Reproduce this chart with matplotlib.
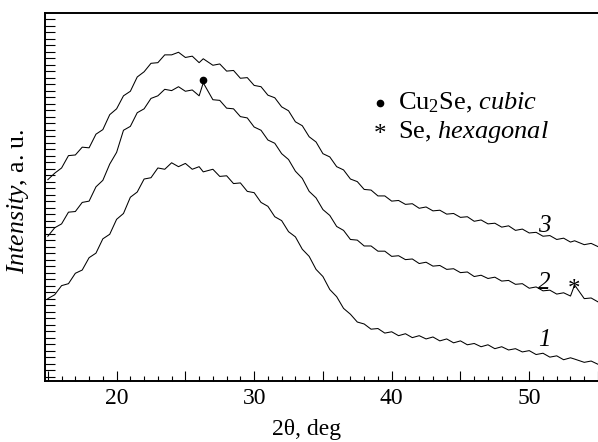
import numpy as np
import matplotlib
matplotlib.use("Agg")
import matplotlib.pyplot as plt
from matplotlib import font_manager
from matplotlib.ticker import MultipleLocator

# find a Times-like serif font
serif = 'DejaVu Serif'
for f in font_manager.findSystemFonts():
    name = f.lower().replace(' ', '').replace('-', '')
    if 'liberationserif' in name or 'tinos' in name or 'timesnewroman' in name:
        font_manager.fontManager.addfont(f)
        serif = font_manager.FontProperties(fname=f).get_name()
plt.rcParams['font.family'] = [serif, 'DejaVu Serif']
plt.rcParams['mathtext.fontset'] = 'custom'
plt.rcParams['mathtext.rm'] = serif
plt.rcParams['mathtext.it'] = serif + ':italic'

# 2theta grid, deg
two_theta = [15.0, 15.5, 16.0, 16.5, 17.0, 17.5, 18.0, 18.5, 19.0, 19.5,
             20.0, 20.5, 21.0, 21.5, 22.0, 22.5, 23.0, 23.5, 24.0, 24.5,
             25.0, 25.5, 26.0, 26.3, 27.0, 27.5, 28.0, 28.5, 29.0, 29.5,
             30.0, 30.5, 31.0, 31.5, 32.0, 32.5, 33.0, 33.5, 34.0, 34.5,
             35.0, 35.5, 36.0, 36.5, 37.0, 37.5, 38.0, 38.5, 39.0, 39.5,
             40.0, 40.5, 41.0, 41.5, 42.0, 42.5, 43.0, 43.5, 44.0, 44.5,
             45.0, 45.5, 46.0, 46.5, 47.0, 47.5, 48.0, 48.5, 49.0, 49.5,
             50.0, 50.5, 51.0, 51.5, 52.0, 52.5, 53.0, 53.3, 54.0, 54.5,
             55.0]

# intensities (arbitrary units, curves already shifted)
curve1 = [12.0, 12.6, 14.0, 14.3, 15.9, 16.4, 18.3, 19.0, 21.2, 21.9,
          24.2, 25.1, 27.6, 28.4, 30.4, 30.6, 32.1, 31.9, 32.9, 32.3,
          32.8, 31.9, 32.3, 31.5, 31.9, 30.8, 30.9, 29.7, 29.8, 28.5,
          28.3, 26.8, 26.2, 24.6, 24.0, 22.3, 21.5, 19.6, 18.5, 16.5,
          15.4, 13.4, 12.3, 10.5, 9.6, 8.4, 8.1, 7.3, 7.4, 6.7,
          6.9, 6.3, 6.6, 6.0, 6.3, 5.8, 6.1, 5.5, 5.8, 5.2,
          5.5, 4.9, 5.1, 4.6, 4.9, 4.3, 4.6, 4.1, 4.3, 3.8,
          4.0, 3.4, 3.6, 3.0, 3.2, 2.6, 2.9, 2.7, 2.2, 2.4,
          1.9]
curve2 = [21.6, 22.9, 23.5, 25.3, 25.4, 26.8, 27.0, 29.2, 30.2, 32.7,
          34.5, 37.9, 38.5, 40.6, 41.2, 42.8, 43.2, 44.2, 44.0, 44.6,
          43.9, 44.1, 43.2, 45.2, 42.6, 42.5, 41.3, 41.2, 40.0, 39.8,
          38.4, 37.9, 36.4, 35.9, 34.3, 33.4, 31.6, 30.5, 28.5, 27.5,
          25.7, 24.8, 23.1, 22.5, 21.1, 21.0, 20.1, 20.1, 19.3, 19.3,
          18.5, 18.6, 18.0, 18.1, 17.4, 17.6, 17.0, 17.1, 16.5, 16.6,
          16.0, 16.1, 15.4, 15.6, 15.1, 15.3, 14.7, 14.8, 14.2, 14.3,
          13.6, 13.8, 13.2, 13.3, 12.7, 12.9, 12.4, 14.1, 12.0, 12.1,
          11.5]
curve3 = [30.3, 31.3, 32.1, 34.0, 34.1, 35.3, 35.2, 37.3, 38.0, 40.3,
          41.2, 43.2, 43.9, 46.1, 46.9, 48.2, 48.3, 49.5, 49.5, 49.9,
          49.1, 49.3, 48.3, 48.9, 47.9, 48.1, 47.0, 47.1, 45.9, 46.0,
          44.8, 44.6, 43.3, 42.9, 41.5, 40.9, 39.2, 38.6, 36.9, 36.1,
          34.3, 33.8, 32.3, 31.8, 30.4, 30.0, 28.8, 28.7, 27.8, 27.8,
          27.0, 27.1, 26.5, 26.6, 25.9, 26.1, 25.5, 25.6, 25.0, 25.1,
          24.5, 24.6, 23.9, 24.1, 23.5, 23.6, 23.0, 23.2, 22.5, 22.7,
          22.1, 22.2, 21.6, 21.7, 21.1, 21.3, 20.7, 20.9, 20.3, 20.5,
          20.0]

curves = [curve1, curve2, curve3]
curve_labels = ['1', '2', '3']
label_y = [5.6, 14.4, 23.2]

fig = plt.figure(figsize=(5.98, 4.42), dpi=100)
ax = fig.add_axes([0.0747, 0.137, 0.9253, 0.833])

for c in curves:
    ax.plot(two_theta, c, color='black', lw=0.75)

# curve numbers
for lab, yy in zip(curve_labels, label_y):
    ax.text(51.1, yy, lab, fontsize=18, style='italic', ha='center', va='center')

# phase markers
ax.plot([26.27], [45.6], 'o', color='black', ms=4.5)
ax.text(53.27, 13.3, '*', fontsize=18, ha='center', va='center')

# legend
ax.plot([39.12], [42.1], 'o', color='black', ms=4.5)
ax.text(39.12, 37.1, '*', fontsize=18, ha='center', va='center')
ax.text(40.47, 42.1, r'Cu$_2$Se, $\mathit{cubic}$', fontsize=19, va='center')
ax.text(40.47, 37.6, r'Se, $\mathit{hexagonal}$', fontsize=19, va='center')

ax.set_xlim(14.77, 54.72)
ax.set_ylim(-0.74, 55.9)
ax.xaxis.set_minor_locator(MultipleLocator(1))
ax.set_xticks(np.arange(15, 56, 5))
ax.set_xticklabels(['' if v % 10 else str(v) for v in np.arange(15, 56, 5)])
ax.yaxis.set_major_locator(MultipleLocator(1))
ax.set_yticklabels([])
ax.tick_params(axis='x', which='major', direction='in', length=7.2, width=0.8,
               labelsize=17, pad=5, top=False)
ax.tick_params(axis='x', which='minor', direction='in', length=3.6, width=0.8, top=False)
ax.tick_params(axis='y', which='major', direction='in', length=7.2, width=0.8, right=False)

for s in ['left', 'bottom', 'top']:
    ax.spines[s].set_linewidth(1.4)
ax.spines['right'].set_visible(False)

ax.set_xlabel('2θ, deg', fontsize=17)
ax.xaxis.set_label_coords(0.474, -0.101)
ax.set_ylabel(r'$\mathit{Intensity}$, a. u.', fontsize=18.5)
ax.yaxis.set_label_coords(-0.024, 0.49)

fig.savefig('out.png', dpi=100)
